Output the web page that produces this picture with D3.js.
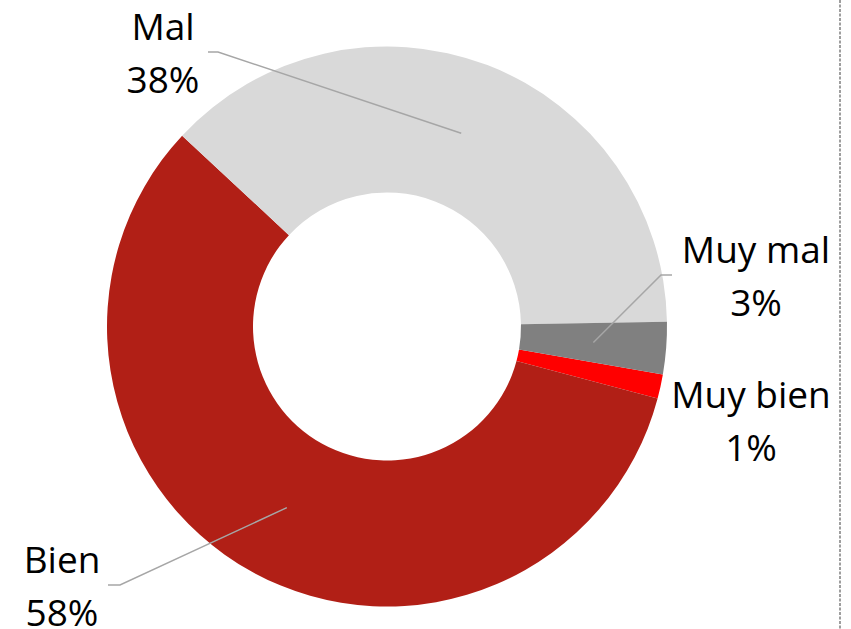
<!DOCTYPE html>
<html>
<head>
<meta charset="utf-8">
<script src="https://cdn.jsdelivr.net/npm/d3@7"></script>
<style>
  html, body { margin: 0; padding: 0; background: #fff; }
  svg { display: block; }
  .lbl { font-family: "Open Sans", sans-serif; font-size: 37px; fill: #000; }
</style>
</head>
<body>
<svg width="851" height="629"></svg>
<script>
// data (Excel order, first slice starts at ~100deg)
const categories = ['Muy bien', 'Bien', 'Mal', 'Muy mal'];
const values = [1.4, 57.8, 37.8, 3.0];
const colors = ['#FF0000', '#B11F16', '#D9D9D9', '#808080'];

// label layout: text center x, first baseline y, elbow point of leader (null = no leader)
const labelLayout = {
  'Muy bien': { x: 751, y: 408, leader: null },
  'Bien': { x: 62, y: 573, leader: [[108, 585], [120, 585]] },
  'Mal': { x: 163, y: 40, leader: [[208, 52], [218, 52]] },
  'Muy mal': { x: 756, y: 263, leader: [[672, 275], [661, 275]] }
};

const svg = d3.select('svg');
const cx = 387, cy = 326.5;
const outerR = 280, innerR = 134;
const startA = 99.85 * Math.PI / 180;

const data = categories.map((c, i) => ({ name: c, value: values[i], color: colors[i] }));

const pie = d3.pie()
  .value(d => d.value)
  .sort(null)
  .startAngle(startA)
  .endAngle(startA + 2 * Math.PI);

const arc = d3.arc().innerRadius(innerR).outerRadius(outerR);

const g = svg.append('g').attr('transform', `translate(${cx},${cy})`);
const arcs = pie(data);

g.selectAll('path.slice')
  .data(arcs)
  .enter().append('path')
    .attr('class', 'slice')
    .attr('d', arc)
    .attr('fill', d => d.data.color);

// leader lines
arcs.forEach(a => {
  const lay = labelLayout[a.data.name];
  if (!lay.leader) return;
  const c = arc.centroid(a);
  const pts = lay.leader.concat([[c[0] + cx, c[1] + cy]]);
  svg.append('path')
    .attr('d', d3.line()(pts))
    .attr('fill', 'none')
    .attr('stroke', '#A6A6A6')
    .attr('stroke-width', 1.5);
});

// labels
arcs.forEach(a => {
  const lay = labelLayout[a.data.name];
  const t = svg.append('text')
    .attr('class', 'lbl')
    .attr('text-anchor', 'middle');
  t.append('tspan').attr('x', lay.x).attr('y', lay.y).text(a.data.name);
  t.append('tspan').attr('x', lay.x).attr('y', lay.y + 53).text(Math.round(a.data.value) + '%');
});

// dashed right border
svg.append('line')
  .attr('x1', 840).attr('x2', 840)
  .attr('y1', 0).attr('y2', 629)
  .attr('stroke', '#7F7F7F')
  .attr('stroke-width', 1.5)
  .attr('stroke-dasharray', '3,1.5');
</script>
</body>
</html>
